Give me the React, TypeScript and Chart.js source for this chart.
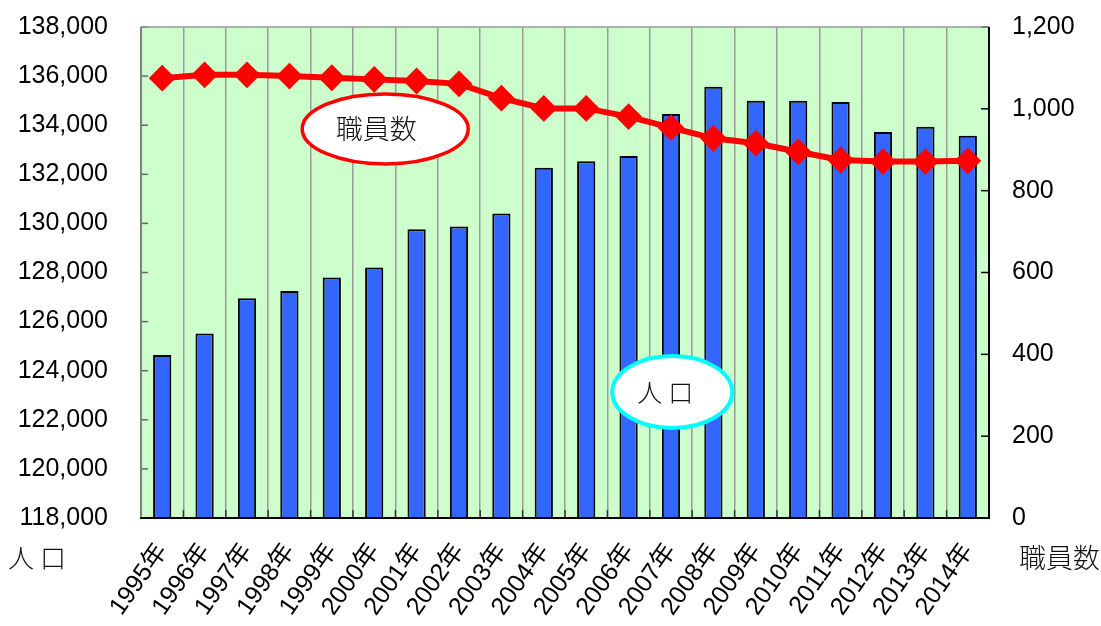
import React, { useEffect, useRef } from 'react';
import { Chart, registerables } from 'chart.js';

Chart.register(...registerables);

// ---- data ----
const categories = [
  '1995年', '1996年', '1997年', '1998年', '1999年', '2000年', '2001年', '2002年', '2003年', '2004年',
  '2005年', '2006年', '2007年', '2008年', '2009年', '2010年', '2011年', '2012年', '2013年', '2014年',
];
// 人口 (left axis, bars)
const population = [
  124640, 125520, 126950, 127250, 127800, 128200, 129760, 129870, 130400, 132270,
  132530, 132750, 134460, 135570, 135000, 135000, 134940, 133720, 133940, 133570,
];
// 職員数 (right axis, line)
const staff = [
  1075, 1083, 1083, 1080, 1076, 1072, 1068, 1061, 1026, 1001,
  1001, 981, 954, 928, 916, 895, 875, 871, 871, 873,
];
const leftAxisTicks = [118000, 120000, 122000, 124000, 126000, 128000, 130000, 132000, 134000, 136000, 138000];
const rightAxisTicks = [0, 200, 400, 600, 800, 1000, 1200];

const populationLabel = '人口';
const staffLabel = '職員数';

// callout anchors (category index, left-axis value)
const staffCallout = { index: 5.26, value: 133850 };
const populationCallout = { index: 12.03, value: 123130 };

const SANS = "'Liberation Sans', Arial, 'Noto Sans CJK JP', sans-serif";
const CJK = "'Noto Sans CJK JP', sans-serif";

const zeroPad = (s: any) => {
  s.paddingTop = 0;
  s.paddingBottom = 0;
  s.paddingLeft = 0;
  s.paddingRight = 0;
};

const decorPlugin = {
  id: 'decor',
  beforeDraw(chart: any) {
    const { ctx, chartArea: a } = chart;
    ctx.save();
    ctx.fillStyle = '#ccffcc';
    ctx.fillRect(a.left, a.top, a.right - a.left, a.bottom - a.top);
    ctx.restore();
  },
  afterDraw(chart: any) {
    const { ctx, chartArea: a, scales } = chart;
    const x = scales.x;
    const y = scales.y;
    const y1 = scales.y1;
    const line = (x0: number, y0: number, x1: number, yy1: number) => {
      ctx.beginPath();
      ctx.moveTo(x0, y0);
      ctx.lineTo(x1, yy1);
      ctx.stroke();
    };
    ctx.save();
    // inward tick marks
    ctx.lineWidth = 1.5;
    ctx.strokeStyle = '#666';
    leftAxisTicks.forEach((v) => {
      const py = y.getPixelForValue(v);
      line(a.left, py, a.left + 7, py);
    });
    ctx.strokeStyle = '#000';
    rightAxisTicks.forEach((v) => {
      const py = y1.getPixelForValue(v);
      line(a.right - 8, py, a.right, py);
    });
    ctx.strokeStyle = '#333';
    ctx.lineWidth = 1.5;
    for (let i = 0; i <= categories.length; i++) {
      const px = x.getPixelForValue(i - 0.5);
      line(px, a.bottom - 8, px, a.bottom);
    }
    // frame
    ctx.strokeStyle = '#999';
    ctx.lineWidth = 1.5;
    line(a.left, a.top, a.right, a.top);
    ctx.strokeStyle = '#808080';
    ctx.lineWidth = 2;
    line(a.left, a.top, a.left, a.bottom);
    ctx.strokeStyle = '#000';
    line(a.right, a.top, a.right, a.bottom);
    line(a.left - 1, a.bottom, a.right + 1, a.bottom);

    // callouts
    const drawCallout = (anchor: { index: number; value: number }, rx: number, ry: number, color: string, lw: number, text: string, size: number, dx: number, spacing: string) => {
      const cx = x.getPixelForValue(anchor.index);
      const cy = y.getPixelForValue(anchor.value);
      ctx.beginPath();
      ctx.ellipse(cx, cy, rx, ry, 0, 0, Math.PI * 2);
      ctx.fillStyle = '#fff';
      ctx.fill();
      ctx.lineWidth = lw;
      ctx.strokeStyle = color;
      ctx.stroke();
      ctx.fillStyle = '#111';
      ctx.font = `300 ${size}px ${CJK}`;
      (ctx as any).letterSpacing = spacing;
      ctx.textAlign = 'center';
      ctx.textBaseline = 'middle';
      ctx.fillText(text, cx + dx, cy);
      (ctx as any).letterSpacing = '0px';
    };
    drawCallout(staffCallout, 83, 35, '#ff0000', 3.5, staffLabel, 27, -9, '0px');
    drawCallout(populationCallout, 60, 36, '#00ffff', 4, populationLabel, 25, -4, '6px');

    // axis captions
    ctx.fillStyle = '#111';
    ctx.textBaseline = 'middle';
    ctx.font = `300 26px ${CJK}`;
    ctx.textAlign = 'left';
    (ctx as any).letterSpacing = '6px';
    ctx.fillText(populationLabel, 8, 558);
    (ctx as any).letterSpacing = '0px';
    ctx.font = `300 27px ${CJK}`;
    ctx.textAlign = 'right';
    ctx.fillText(staffLabel, 1100, 558);
    ctx.restore();
  },
};

export default function App() {
  const ref = useRef<HTMLCanvasElement>(null);
  useEffect(() => {
    const canvas = ref.current;
    if (!canvas) return;
    const chart = new Chart(canvas, {
      type: 'bar',
      data: {
        labels: categories,
        datasets: [
          {
            type: 'line',
            label: staffLabel,
            data: staff,
            yAxisID: 'y1',
            borderColor: '#ff0000',
            borderWidth: 6,
            backgroundColor: '#ff0000',
            pointStyle: 'rectRot',
            pointRadius: 12,
            pointBorderWidth: 2,
            pointBackgroundColor: '#ff0000',
            pointBorderColor: '#ff0000',
            tension: 0,
            order: 0,
          } as any,
          {
            type: 'bar',
            label: populationLabel,
            data: population,
            yAxisID: 'y',
            backgroundColor: '#3366ff',
            borderColor: '#000',
            borderWidth: 2,
            barPercentage: 0.43,
            categoryPercentage: 1,
            order: 1,
          } as any,
        ],
      },
      options: {
        responsive: false,
        animation: false,
        layout: { padding: { top: 27, left: 0, right: 0, bottom: 0 } },
        plugins: {
          legend: { display: false },
          tooltip: { enabled: false },
        },
        scales: {
          x: {
            offset: true,
            grid: { offset: true, color: '#999', lineWidth: 1.5, drawTicks: false },
            border: { display: false },
            ticks: {
              autoSkip: false,
              minRotation: 55,
              maxRotation: 55,
              padding: 20,
              color: '#000',
              font: { size: 25, family: SANS },
            },
            afterFit(s: any) {
              s.height = 108;
              zeroPad(s);
            },
          },
          y: {
            position: 'left',
            min: 118000,
            max: 138000,
            grid: { display: false, drawTicks: false },
            border: { display: false },
            afterBuildTicks(s: any) {
              s.ticks = leftAxisTicks.map((v) => ({ value: v }));
            },
            ticks: {
              padding: 33,
              color: '#000',
              font: { size: 25, family: SANS },
              callback: (v: any) => Number(v).toLocaleString('en-US'),
            },
            afterFit(s: any) {
              s.width = 141;
              zeroPad(s);
            },
          },
          y1: {
            position: 'right',
            min: 0,
            max: 1200,
            grid: { display: false, drawTicks: false },
            border: { display: false },
            afterBuildTicks(s: any) {
              s.ticks = rightAxisTicks.map((v) => ({ value: v }));
            },
            ticks: {
              padding: 23,
              color: '#000',
              font: { size: 25, family: SANS },
              callback: (v: any) => Number(v).toLocaleString('en-US'),
            },
            afterFit(s: any) {
              s.width = 112;
              zeroPad(s);
            },
          },
        },
      } as any,
      plugins: [decorPlugin],
    });
    return () => chart.destroy();
  }, []);
  return (
    <div style={{ position: 'fixed', left: 0, top: 0, width: 1101, height: 626, background: '#fff' }}>
      <canvas ref={ref} width={1101} height={626} style={{ display: 'block' }} />
    </div>
  );
}
